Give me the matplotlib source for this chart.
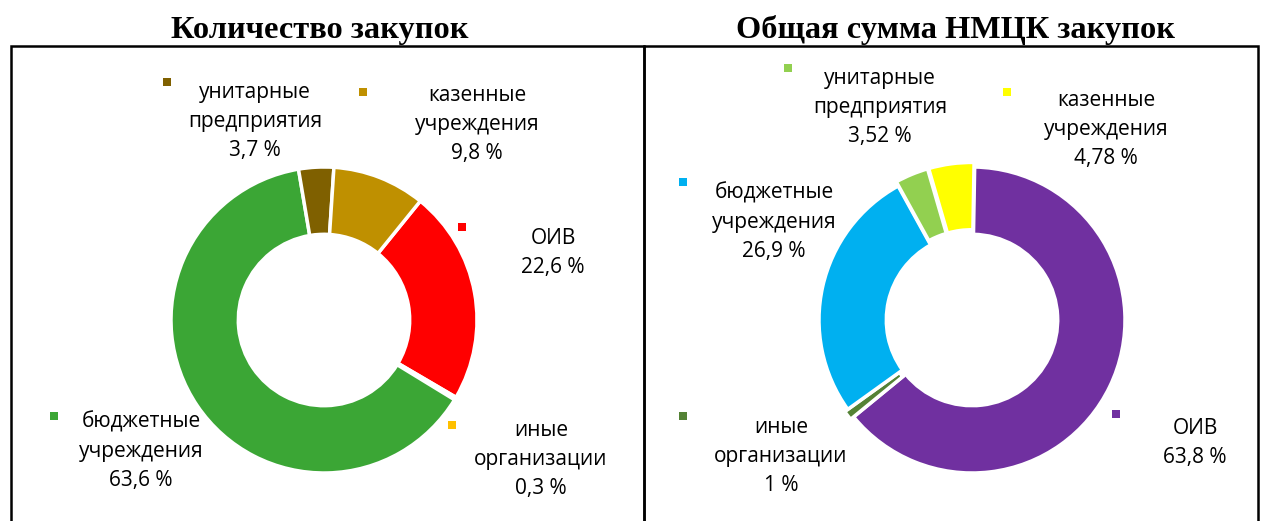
import matplotlib
matplotlib.use("Agg")
import matplotlib.pyplot as plt
from matplotlib.patches import Rectangle

# --- data ---
categories = ["ОИВ", "иные\nорганизации", "бюджетные\nучреждения",
              "унитарные\nпредприятия", "казенные\nучреждения"]
count_share = [22.6, 0.3, 63.6, 3.7, 9.8]
nmck_share = [63.8, 1, 26.9, 3.52, 4.78]
titles = ["Количество закупок", "Общая сумма НМЦК закупок"]

count_colors = ["#FF0000", "#FFC000", "#3BA635", "#7F6000", "#BF9000"]
nmck_colors = ["#7030A0", "#548235", "#00B0F0", "#92D050", "#FFFF00"]

# --- layout (pixels of a 1265x521 canvas) ---
W, H = 1265, 521
LINE = 29

# (square x, square y, text centre x, first line centre y) per category
count_layout = [(462, 227, 553, 238), (452, 425, 541, 430), (54, 416, 141, 422),
                (167, 82, 255, 92), (363, 92, 477, 95)]
nmck_layout = [(1116, 414, 1195, 428), (683, 416, 781, 427), (683, 182, 774, 193),
               (788, 68, 880, 78), (1007, 92, 1106, 100)]

fig = plt.figure(figsize=(W / 100, H / 100), dpi=100)
fig.patch.set_facecolor("white")


def fx(x):
    return x / W


def fy(y):
    return 1 - y / H


def donut(cx, cy, r, values, colors, start, explode):
    ax = fig.add_axes([fx(cx - r), fy(cy + r), 2 * r / W, 2 * r / H])
    ax.pie(values, colors=colors, startangle=start, counterclock=False,
           radius=1, explode=explode,
           wedgeprops=dict(width=0.44, edgecolor="white", linewidth=2.5))
    ax.set_xlim(-1, 1)
    ax.set_ylim(-1, 1)
    ax.axis("off")
    for p in ax.patches:
        p.set_clip_on(False)


def labels(values, colors, layout):
    for name, v, c, (sx, sy, tx, ty) in zip(categories, values, colors, layout):
        fig.add_artist(Rectangle((fx(sx - 4), fy(sy + 4)), 8 / W, 8 / H,
                                 transform=fig.transFigure, color=c, lw=0))
        lines = name.split("\n") + [f"{v:g} %".replace(".", ",")]
        for i, line in enumerate(lines):
            fig.text(fx(tx), fy(ty + i * LINE + 6), line, ha="center",
                     va="baseline", fontsize=15, family="Open Sans", color="black")


# frames
fig.add_artist(Rectangle((fx(11), fy(530)), (644 - 11) / W, (530 - 46) / H,
                         transform=fig.transFigure, fill=False, ec="black", lw=1.8))
fig.add_artist(Rectangle((fx(644), fy(530)), (1258 - 644) / W, (530 - 46) / H,
                         transform=fig.transFigure, fill=False, ec="black", lw=1.8))

donut(324, 320, 153, count_share, count_colors, 51, [0, 0, 0, 0, 0])
donut(972, 320, 153, nmck_share, nmck_colors, 89, [0, 0.025, 0, 0.03, 0.03])

labels(count_share, count_colors, count_layout)
labels(nmck_share, nmck_colors, nmck_layout)

fig.text(fx(320), fy(38), titles[0], ha="center", va="baseline",
         fontsize=23.3, family="Liberation Serif", weight="bold")
fig.text(fx(956), fy(38), titles[1], ha="center", va="baseline",
         fontsize=23.3, family="Liberation Serif", weight="bold")

fig.savefig("out.png", dpi=100)
